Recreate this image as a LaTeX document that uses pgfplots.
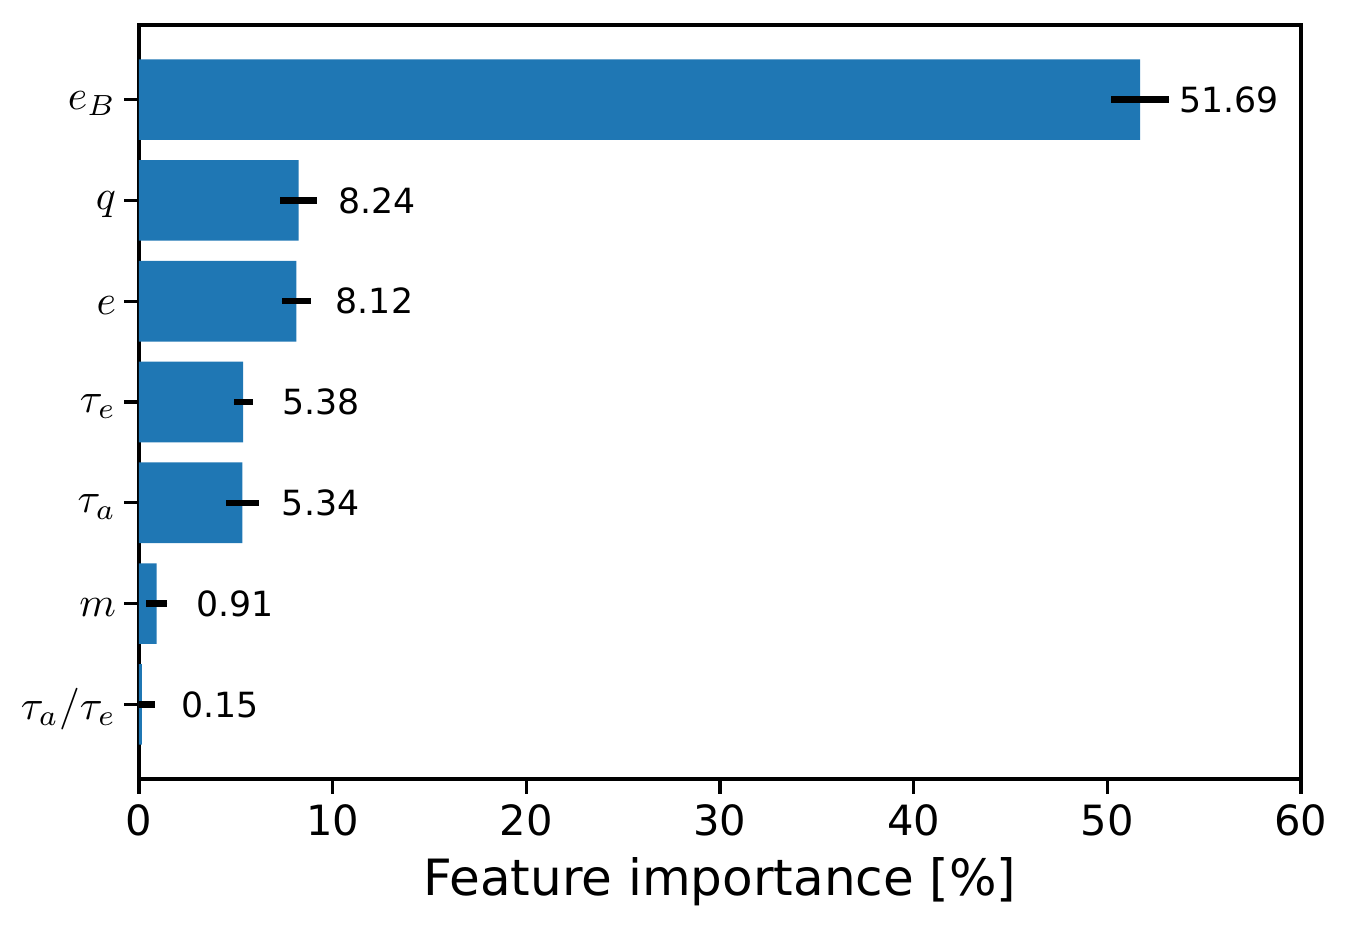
\documentclass[border=0pt]{standalone}
\usepackage{fontspec}
\setmainfont{DejaVu Sans}
\usepackage{pgfplots}
\usepackage{pgfplotstable}
\pgfplotsset{compat=1.18}
\definecolor{mplblue}{RGB}{31,119,180}
\pgfplotstableread{
y x err lab
0 0.15 0.67 0.15
1 0.91 0.56 0.91
2 5.34 0.86 5.34
3 5.38 0.49 5.38
4 8.12 0.75 8.12
5 8.24 0.95 8.24
6 51.69 1.51 51.69
}\datatable
\begin{document}
\begin{tikzpicture}
\begin{axis}[name=ax, scale only axis, width=278.88pt, height=180.96pt,
  xmin=0, xmax=60, ymin=-0.74, ymax=6.74,
  xtick={0,10,...,60}, ytick={0,1,...,6},
  yticklabels={$\tau_a/\tau_e$,$m$,$\tau_a$,$\tau_e$,$e$,$q$,$e_B$},
  xtick pos=bottom, ytick pos=left, minor tick num=0,
  tick align=outside, major tick length=3.5pt,
  every tick/.style={line width=0.8pt, black},
  axis line style={line width=0.8pt},
  /pgf/number format/assume math mode=true,
  ticklabel style={font=\fontsize{10}{12}\selectfont},
  xticklabel style={anchor=north, inner sep=0pt, yshift=-2.5pt},
  yticklabel style={anchor=east, inner sep=0pt, xshift=-1.8pt, yshift=-1pt},
  xlabel={Feature importance [\%]},
  xlabel style={font=\fontsize{12}{14}\selectfont, at={(axis description cs:0.5,0)}, anchor=base, yshift=-27.84pt, inner sep=0pt},
  xbar, bar width=0.8, bar shift=0pt,
  nodes near coords, point meta=explicit symbolic,
  every node near coord/.append style={anchor=west, xshift=9.296pt, inner sep=0pt, font=\fontsize{8.33}{10}\selectfont, black},
]
\addplot[fill=mplblue, draw=none,
  error bars/.cd, x dir=both, x explicit, error mark=none,
  error bar style={line width=1.5pt, black}]
  table[x=x, y=y, x error=err, meta=lab] \datatable;
\end{axis}
\pgfresetboundingbox
\path[use as bounding box] ([xshift=-33.36pt,yshift=-36.48pt]ax.south west) rectangle ++(324.72pt,223.44pt);
\end{tikzpicture}
\end{document}
